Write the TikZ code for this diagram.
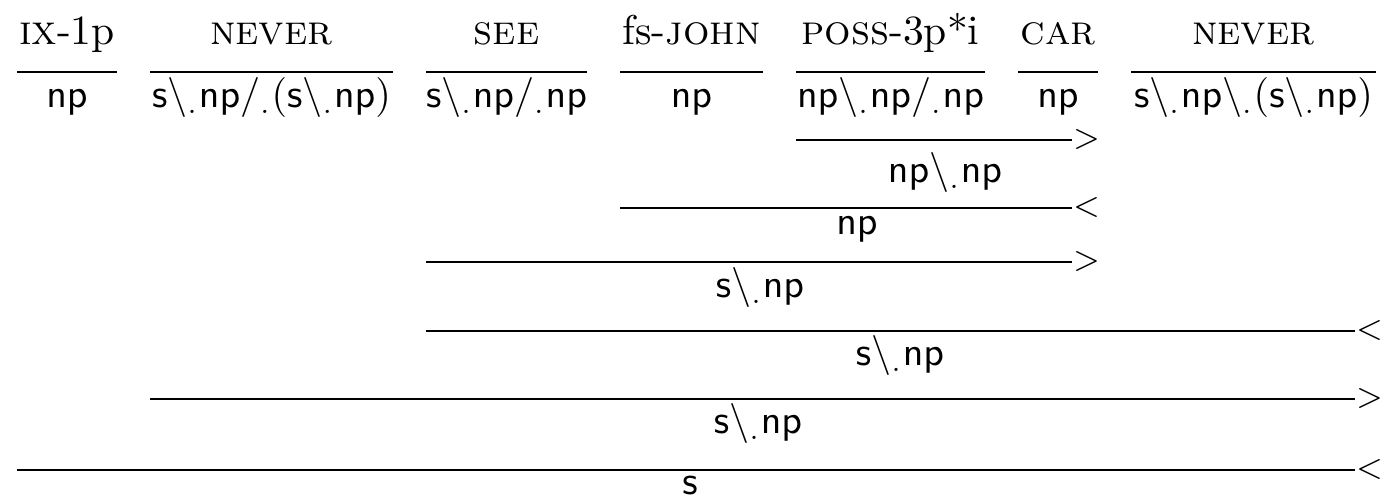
\documentclass[tikz,border=0pt]{standalone}
\newcommand{\ccgbs}{\backslash_{.}}
\newcommand{\ccgfs}{/_{.}}
\newcommand{\ccgcat}[1]{$\mathsf{#1}$}
\tikzset{
  word/.style={anchor=base, inner sep=0pt, font=\rmfamily\fontsize{10.4}{12.5}\selectfont},
  cat/.style={anchor=base, inner sep=0pt},
  rulestyle/.style={line width=0.7pt},
  combsym/.style={anchor=west, inner sep=0pt, font=\footnotesize},
}
\begin{document}
\begin{tikzpicture}[x=0.25pt,y=-0.25pt]
\useasboundingbox (0,0) rectangle (1381,498);
% ---- lexical entries ----
\node[word] (w1) at (67,45) {\textsc{ix}-1p};
\node[word] (w2) at (271.5,45) {\textsc{never}};
\node[word] (w3) at (506.5,45) {\textsc{see}};
\node[word] (w4) at (691.5,45) {fs-\textsc{john}};
\node[word] (w5) at (890.5,45) {\textsc{poss}-3p*i};
\node[word] (w6) at (1058,45) {\textsc{car}};
\node[word] (w7) at (1253.5,45) {\textsc{never}};
\coordinate (l1a) at (17,72);   \coordinate (l1b) at (117,72);
\coordinate (l2a) at (150,72);  \coordinate (l2b) at (393,72);
\coordinate (l3a) at (426,72);  \coordinate (l3b) at (587,72);
\coordinate (l4a) at (620,72);  \coordinate (l4b) at (763,72);
\coordinate (l5a) at (796,72);  \coordinate (l5b) at (985,72);
\coordinate (l6a) at (1018,72); \coordinate (l6b) at (1098,72);
\coordinate (l7a) at (1131,72); \coordinate (l7b) at (1376,72);
\foreach \i in {1,...,7} { \draw[rulestyle] (l\i a) -- (l\i b); }
\node[cat] (c1) at (67,108) {\ccgcat{np}};
\node[cat] (c2) at (271.5,108) {\ccgcat{s\ccgbs np\ccgfs (s\ccgbs np)}};
\node[cat] (c3) at (506.5,108) {\ccgcat{s\ccgbs np\ccgfs np}};
\node[cat] (c4) at (691.5,108) {\ccgcat{np}};
\node[cat] (c5) at (890.5,108) {\ccgcat{np\ccgbs np\ccgfs np}};
\node[cat] (c6) at (1058,108) {\ccgcat{np}};
\node[cat] (c7) at (1253.5,108) {\ccgcat{s\ccgbs np\ccgbs (s\ccgbs np)}};
% ---- combinations ----
\coordinate (k1a) at (796,140); \coordinate (k1b) at (1072,140);
\draw[rulestyle] (k1a) -- (k1b) node[combsym] (s1) {$>$};
\node[cat] (d1) at (945,183) {\ccgcat{np\ccgbs np}};
\coordinate (k2a) at (620,208); \coordinate (k2b) at (1072,208);
\draw[rulestyle] (k2a) -- (k2b) node[combsym] (s2) {$<$};
\node[cat] (d2) at (857,235) {\ccgcat{np}};
\coordinate (k3a) at (426,262); \coordinate (k3b) at (1072,262);
\draw[rulestyle] (k3a) -- (k3b) node[combsym] (s3) {$>$};
\node[cat] (d3) at (760,298) {\ccgcat{s\ccgbs np}};
\coordinate (k4a) at (426,331); \coordinate (k4b) at (1355,331);
\draw[rulestyle] (k4a) -- (k4b) node[combsym] (s4) {$<$};
\node[cat] (d4) at (900,366) {\ccgcat{s\ccgbs np}};
\coordinate (k5a) at (150,399); \coordinate (k5b) at (1355,399);
\draw[rulestyle] (k5a) -- (k5b) node[combsym] (s5) {$>$};
\node[cat] (d5) at (758,434) {\ccgcat{s\ccgbs np}};
\coordinate (k6a) at (17,470); \coordinate (k6b) at (1355,470);
\draw[rulestyle] (k6a) -- (k6b) node[combsym] (s6) {$<$};
\node[cat] (d6) at (690,495) {\ccgcat{s}};
\end{tikzpicture}
\end{document}
